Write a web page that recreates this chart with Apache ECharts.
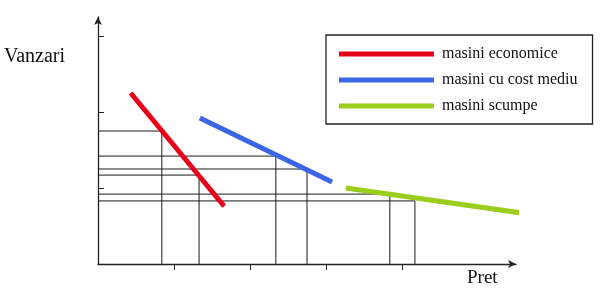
<!DOCTYPE html>
<html>
<head>
<meta charset="utf-8">
<script src="https://cdn.jsdelivr.net/npm/echarts@6/dist/echarts.min.js"></script>
<style>html,body{margin:0;padding:0;background:#fff}#c{width:604px;height:291px}</style>
</head>
<body>
<div id="c"></div>
<script>
// Series names
const seriesNames = ['masini economice', 'masini cu cost mediu', 'masini scumpe'];
// Demand lines (Pret, Vanzari) endpoints
const economice = [[0.43, 2.25], [1.66, 0.76]];
const costMediu = [[1.34, 1.92], [3.08, 1.08]];
const scumpe = [[3.26, 1.00], [5.58, 0.67]];
// Projection points (Pret, Vanzari) read on each curve
const projPret = [0.84, 1.33, 2.34, 2.75, 3.84, 4.17];
const projVanzari = [1.75, 1.17, 1.42, 1.25, 0.92, 0.83];
// Tick positions
const xTicks = [1, 2, 3, 4];
const yTicks = [1, 2, 3];
const axisTitleX = 'Pret';
const axisTitleY = 'Vanzari';

const colors = ['#e8001a', '#3b64e6', '#9acd1c'];
const chart = echarts.init(document.getElementById('c'), null, {renderer: 'canvas'});

const projSeries = projPret.map((px, i) => ({
  type: 'line',
  data: [[0, projVanzari[i]], [px, projVanzari[i]], [px, 0]],
  symbol: 'none',
  silent: true,
  lineStyle: {color: '#1a1a1a', width: 1},
  z: 1,
  legendHoverLink: false
}));

const mainSeries = [economice, costMediu, scumpe].map((d, i) => ({
  name: seriesNames[i],
  type: 'line',
  data: d,
  symbol: 'none',
  clip: false,
  lineStyle: {color: colors[i], width: 5, cap: 'butt'},
  itemStyle: {color: colors[i]},
  z: 3
}));

chart.setOption({
  animation: false,
  backgroundColor: '#fff',
  grid: {left: 98, right: 88, top: 17, bottom: 27},
  xAxis: {
    type: 'value', min: 0, max: 5.5,
    splitLine: {show: false},
    axisLabel: {show: false},
    axisLine: {lineStyle: {color: '#222', width: 1.3}, symbol: ['none', 'arrow'], symbolSize: [6, 8]},
    axisTick: {show: true, inside: false, length: 6, customValues: xTicks, lineStyle: {color: '#222', width: 1}}
  },
  yAxis: {
    type: 'value', min: 0, max: 3.25,
    splitLine: {show: false},
    axisLabel: {show: false},
    axisLine: {show: true, lineStyle: {color: '#222', width: 1.3}, symbol: ['none', 'arrow'], symbolSize: [6, 8]},
    axisTick: {show: true, inside: true, length: 6, customValues: yTicks, lineStyle: {color: '#222', width: 1}}
  },
  legend: {
    orient: 'vertical',
    left: 326, top: 35,
    data: seriesNames.map(n => ({name: n, icon: 'rect'})),
    itemWidth: 95, itemHeight: 5, itemGap: 10,
    padding: [11, 15, 10, 13],
    borderColor: '#222', borderWidth: 1.3,
    selectedMode: false,
    textStyle: {fontFamily: 'Liberation Serif', fontSize: 16, color: '#111', lineHeight: 16, padding: [0, 0, 0, 3]}
  },
  graphic: [
    {type: 'text', left: 4, top: 47, style: {text: axisTitleY, font: '20px "Liberation Serif"', fill: '#111'}},
    {type: 'text', left: 467, top: 269, style: {text: axisTitleX, font: '19px "Liberation Serif"', fill: '#111'}}
  ],
  series: projSeries.concat(mainSeries)
});
</script>
</body>
</html>
